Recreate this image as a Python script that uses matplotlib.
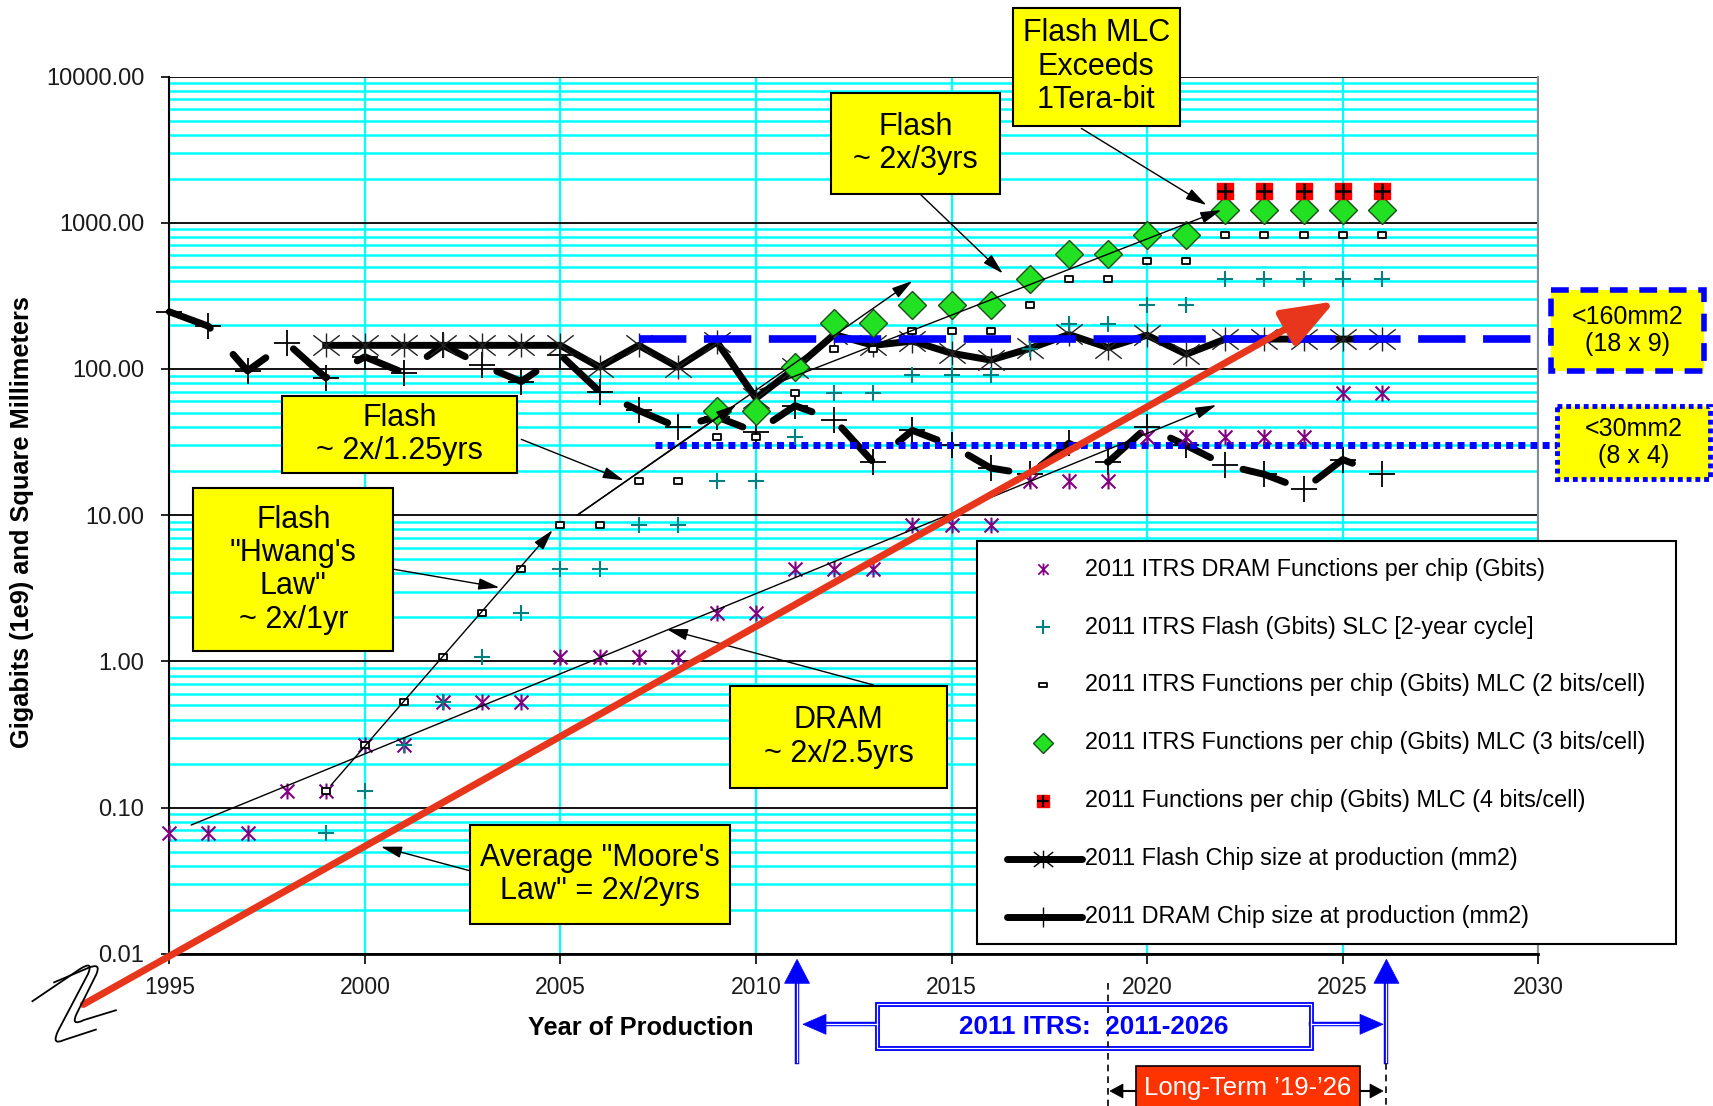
import numpy as np
import matplotlib
matplotlib.use("Agg")
import matplotlib.pyplot as plt
from matplotlib import transforms
from matplotlib.lines import Line2D
from matplotlib.patches import Rectangle, Polygon, PathPatch, FancyArrowPatch
from matplotlib.path import Path
from matplotlib.ticker import LogLocator, FuncFormatter, NullFormatter, FixedLocator

plt.rcParams['font.family'] = ['Liberation Sans', 'DejaVu Sans']

W, H = 1713, 1106

# ---------------------------------------------------------------------------
# 2011 ITRS roadmap series
# ---------------------------------------------------------------------------
dram_years = list(range(1995, 2027))
dram_gbits = [0.067, 0.067, 0.067, 0.13, 0.13, 0.27, 0.27, 0.53, 0.53, 0.53,
              1.07, 1.07, 1.07, 1.07, 2.15, 2.15, 4.29, 4.29, 4.29,
              8.59, 8.59, 8.59, 17.18, 17.18, 17.18,
              34.36, 34.36, 34.36, 34.36, 34.36, 68.72, 68.72]

flash_years = list(range(1999, 2027))
flash_slc_gbits = [0.067, 0.13, 0.27, 0.53, 1.07, 2.15, 4.29, 4.29, 8.59, 8.59,
                   17.18, 17.18, 34.36, 68.72, 68.72, 91, 91, 91, 137, 202, 202,
                   274, 274, 410, 410, 410, 410, 410]
mlc2_gbits = [0.13, 0.27, 0.53, 1.07, 2.15, 4.29, 8.59, 8.59, 17.18, 17.18,
              34.36, 34.36, 68.72, 137, 137, 182, 182, 182, 274, 410, 410,
              548, 548, 820, 820, 820, 820, 820]

mlc3_years = list(range(2009, 2027))
mlc3_gbits = [51.5, 51.5, 103, 206, 206, 273, 273, 273, 410, 615, 615,
              820, 820, 1230, 1230, 1230, 1230, 1230]

mlc4_years = list(range(2022, 2027))
mlc4_gbits = [1640, 1640, 1640, 1640, 1640]

flash_chip_mm2 = [145, 145, 145, 145, 145, 145, 145, 103, 145, 103, 153, 63,
                  101, 172, 145, 155, 128, 115, 138, 172, 140, 170, 126,
                  160, 160, 160, 160, 160]
dram_chip_mm2 = [246, 196, 97, 151, 87, 121, 94, 145, 106, 82, 125, 70, 52,
                 40, 47, 37, 56, 45, 23, 38, 30, 21, 19, 31, 23, 40, 30, 22,
                 19, 15, 24, 19]

flash_area_limit = 160   # mm2 (18 x 9)
dram_area_limit = 30     # mm2 (8 x 4)

# trend lines: (start year, end year), (start value, end value)
trend_dram = ([1995.56, 2021.77], [0.076, 56.6])
trend_hwang = ([1999.13, 2004.8], [0.142, 7.9])
trend_flash125 = ([2005.43, 2014.0], [10.0, 400])
trend_flash125_mid = (2009.5, 57)
trend_flash3 = ([2010.1, 2021.9], [72, 1222])
moore_years = [1992.8, 2024.8]
moore_gbits = [0.0045, 290]

legend_labels = [
    "2011 ITRS DRAM Functions per chip (Gbits)",
    "2011 ITRS Flash (Gbits) SLC [2-year cycle]",
    "2011 ITRS Functions per chip (Gbits) MLC (2 bits/cell)",
    "2011 ITRS Functions per chip (Gbits) MLC (3 bits/cell)",
    "2011 Functions per chip (Gbits) MLC (4 bits/cell)",
    "2011 Flash Chip size at production (mm2)",
    "2011 DRAM Chip size at production (mm2)",
]

# ---------------------------------------------------------------------------
# marker shapes
# ---------------------------------------------------------------------------
M, L = Path.MOVETO, Path.LINETO
star = Path([(-1, -1), (1, 1), (-1, 1), (1, -1), (0, -1.15), (0, 1.15)],
            [M, L, M, L, M, L])
star_wide = Path([(-1.1, -0.85), (1.1, 0.85), (-1.1, 0.85), (1.1, -0.85),
                  (0, -1.0), (0, 1.0)], [M, L, M, L, M, L])
small_rect = Path([(-1, -0.65), (1, -0.65), (1, 0.65), (-1, 0.65), (-1, -0.65)],
                  [M, L, L, L, Path.CLOSEPOLY])

PURPLE = '#800080'
TEAL = '#008080'
GREEN = '#22e022'
RED = '#ff0000'
BLUE = '#0000ff'
CYAN = '#00ffff'
MOORE = '#e8361c'

fig = plt.figure(figsize=(W / 100, H / 100), dpi=100)
# pixel coordinates, origin top-left
pxT = transforms.Affine2D().scale(1 / W, -1 / H).translate(0, 1) + fig.transFigure

ax_l, ax_r, ax_t, ax_b = 169.3, 1538.2, 76.5, 953.8
ax = fig.add_axes([ax_l / W, 1 - ax_b / H, (ax_r - ax_l) / W, (ax_b - ax_t) / H])
ax.set_xlim(1995, 2030)
ax.set_yscale('log')
ax.set_ylim(0.01, 10000)

# grid
ax.set_axisbelow(True)
ax.yaxis.set_major_locator(LogLocator(base=10, numticks=12))
ax.yaxis.set_minor_locator(LogLocator(base=10, subs=np.arange(2, 10), numticks=12))
ax.yaxis.set_major_formatter(FuncFormatter(lambda v, p: f'{v:.2f}'))
ax.yaxis.set_minor_formatter(NullFormatter())
ax.xaxis.set_major_locator(FixedLocator(range(1995, 2031, 5)))
ax.yaxis.grid(True, which='minor', color=CYAN, lw=1.8)
ax.yaxis.grid(True, which='major', color='black', lw=1.3)
ax.xaxis.grid(True, which='major', color=CYAN, lw=1.6)

ax.tick_params(axis='y', which='major', direction='out', length=6, width=1.2,
               pad=12, labelsize=17, labelcolor='#1a1a1a')
ax.tick_params(axis='y', which='minor', length=0)
ax.tick_params(axis='x', direction='out', length=7, width=1.2, pad=9,
               labelsize=16.5, labelcolor='#1a1a1a')
ax.spines['top'].set_visible(False)
ax.spines['right'].set_color('#8c8c8c')
ax.spines['right'].set_linewidth(1.5)
ax.spines['left'].set_linewidth(1.5)
ax.spines['bottom'].set_linewidth(2)

# chip size lines
ax.plot(dram_years, dram_chip_mm2, color='black', lw=5, ls=(0, (6.4, 5)),
        dash_capstyle='round', zorder=3, clip_on=False)
ax.plot(dram_years, dram_chip_mm2, ls='none', marker='+', ms=19, mec='black',
        mew=1.3, zorder=3.2, clip_on=False)
ax.plot(flash_years, flash_chip_mm2, color='black', lw=5,
        solid_joinstyle='round', zorder=3.5)
ax.plot(flash_years, flash_chip_mm2, ls='none', marker=star_wide, ms=19,
        mec='#222222', mfc='none', mew=1, zorder=3.6)

# area limits
ax.plot([2007.0, 2030.33], [flash_area_limit] * 2, color=BLUE, lw=5.5,
        ls=(0, (6.2, 2.3)), zorder=4, clip_on=False)
ax.plot([2007.43, 2030.47], [dram_area_limit] * 2, color=BLUE, lw=5,
        ls=(0, (1, 0.75)), zorder=4, clip_on=False)

# functions per chip
ax.plot(dram_years, dram_gbits, ls='none', marker=star, ms=11.5, mec=PURPLE,
        mfc='none', mew=1.5, zorder=5, clip_on=False)
ax.plot(flash_years, flash_slc_gbits, ls='none', marker='+', ms=11.5, mec=TEAL,
        mew=1.5, zorder=5)
ax.plot(flash_years, mlc2_gbits, ls='none', marker=small_rect, ms=6,
        mfc='white', mec='black', mew=1.3, zorder=5)
ax.plot(mlc3_years, mlc3_gbits, ls='none', marker='D', ms=14.5, mfc=GREEN,
        mec='#1a4d1a', mew=1, zorder=5)
ax.plot(mlc4_years, mlc4_gbits, ls='none', marker='s', ms=11.5, mfc=RED,
        mec=RED, zorder=5)
ax.plot(mlc4_years, mlc4_gbits, ls='none', marker='+', ms=11.5, mec='black',
        mew=1.8, zorder=5.1)


def thin_arrow(tail, head, z=6):
    ax.add_patch(FancyArrowPatch(tail, head,
                                 arrowstyle='-|>,head_length=0.8,head_width=0.22',
                                 mutation_scale=16, color='black', lw=1.0,
                                 shrinkA=0, shrinkB=0, zorder=z, clip_on=False))


# trend lines
for xs, ys in (trend_dram, trend_hwang, trend_flash125, trend_flash3):
    thin_arrow((xs[0], ys[0]), (xs[1], ys[1]))
thin_arrow((trend_flash125[0][0], trend_flash125[1][0]), trend_flash125_mid)

# Moore's law arrow
ax.add_patch(FancyArrowPatch((moore_years[0], moore_gbits[0]),
                             (moore_years[1], moore_gbits[1]),
                             arrowstyle='-|>,head_length=1.6,head_width=0.6',
                             mutation_scale=20, color=MOORE, lw=5,
                             shrinkA=0, shrinkB=0, joinstyle='round',
                             zorder=7, clip_on=False))

# callout arrows from the label boxes
thin_arrow((2018.32, 4416), (2021.52, 1321))
thin_arrow((2014.18, 1585), (2016.31, 450))
thin_arrow((2004.0, 33), (2006.62, 17.3))
thin_arrow((2000.75, 4.26), (2003.44, 3.2))
thin_arrow((2013.0, 0.69), (2007.72, 1.66))
thin_arrow((2002.68, 0.037), (2000.41, 0.054))


# ---------------------------------------------------------------------------
# figure-level annotations (pixel coordinates)
# ---------------------------------------------------------------------------
def label_box(text, x0, y0, x1, y1, fs=22, fc='#ffff00', ec='black', lw=1.5,
              ls='solid', color='black', weight='normal', z=10):
    fig.add_artist(Rectangle((x0, y0), x1 - x0, y1 - y0, transform=pxT, fc=fc,
                             ec=ec, lw=lw, ls=ls, zorder=z))
    fig.text((x0 + x1) / 2, (y0 + y1) / 2, text, transform=pxT, ha='center',
             va='center', fontsize=fs, linespacing=1.15, color=color,
             weight=weight, zorder=z + 1)


label_box('Flash MLC\nExceeds\n1Tera-bit', 1012.7, 7.6, 1179.9, 125.6)
label_box('Flash\n~ 2x/3yrs', 831.4, 92.9, 999.6, 194.5)
label_box('Flash\n~ 2x/1.25yrs', 281.9, 395.5, 516.8, 473)
label_box('Flash\n"Hwang\'s\nLaw"\n~ 2x/1yr', 193.4, 488.3, 393.3, 651.1)
label_box('DRAM\n~ 2x/2.5yrs', 729.8, 686, 947.2, 787.7)
label_box('Average "Moore\'s\nLaw" = 2x/2yrs', 469.8, 824.8, 729.8, 924.3)
label_box('<160mm2\n(18 x 9)', 1551.4, 289.5, 1704.3, 371.4, fs=18, ec=BLUE,
          lw=4, ls=(0, (3.2, 2.1)))
label_box('<30mm2\n(8 x 4)', 1556.8, 406.4, 1709.8, 478.5, fs=18, ec=BLUE,
          lw=3.5, ls=(0, (1, 0.8)))

# legend
fig.add_artist(Rectangle((976.9, 541), 699.1, 403, transform=pxT, fc='white',
                         ec='black', lw=1.5, zorder=12))
leg_styles = [
    dict(ls='none', marker=star, ms=8.5, mec=PURPLE, mfc='none', mew=1.3),
    dict(ls='none', marker='+', ms=10, mec=TEAL, mew=1.5),
    dict(ls='none', marker=small_rect, ms=5.5, mfc='white', mec='black', mew=1.3),
    dict(ls='none', marker='D', ms=10, mfc=GREEN, mec='#1a4d1a', mew=1),
    dict(ls='none', marker='s', ms=9, mfc=RED, mec=RED),
    None,
    None,
]
for i, (lab, st) in enumerate(zip(legend_labels, leg_styles)):
    y = 569.2 + 57.9 * i
    if st is not None:
        fig.add_artist(Line2D([1043.3], [y], transform=pxT, zorder=13, **st))
        if i == 4:
            fig.add_artist(Line2D([1043.3], [y], transform=pxT, ls='none',
                                  marker='+', ms=9, mec='black', mew=1.6, zorder=13.5))
    else:
        fig.add_artist(Line2D([1007, 1081.6], [y, y], transform=pxT, color='black',
                              lw=5, solid_capstyle='round', zorder=13))
        mk = star_wide if i == 5 else '+'
        fig.add_artist(Line2D([1043.3], [y], transform=pxT, ls='none', marker=mk,
                              ms=14, mec='black', mfc='none', mew=1, zorder=13.5))
    fig.text(1084.8, y, lab, transform=pxT, ha='left', va='center',
             fontsize=16.8, zorder=14)


def xpx(year):
    return ax.transData.transform((year, 1.0))[0]


def double_line(xs, ys, color=BLUE):
    fig.add_artist(Line2D(xs, ys, transform=pxT, color=color, lw=3.2, zorder=10))
    fig.add_artist(Line2D(xs, ys, transform=pxT, color='white', lw=0.9, zorder=10.5))


def head(tip, base, half, color=BLUE):
    (tx, ty), (bx, by) = tip, base
    if tx == bx:
        pts = [(tx, ty), (bx - half, by), (bx + half, by)]
    else:
        pts = [(tx, ty), (bx, by - half), (bx, by + half)]
    fig.add_artist(Polygon(pts, closed=True, transform=pxT, fc=color, ec=color,
                           lw=0.5, zorder=11))


# 2011-2026 roadmap span markers
for yr in (2011.05, 2026.12):
    x = xpx(yr)
    double_line([x, x], [1061.7, 982])
    head((x, 959.3), (x, 983.3), 12.5)

fig.add_artist(Rectangle((877, 1004), 433.8, 44.3, transform=pxT, fc='white',
                         ec=BLUE, lw=3.5, zorder=10))
fig.add_artist(Rectangle((877, 1004), 433.8, 44.3, transform=pxT, fc='none',
                         ec='white', lw=0.9, zorder=10.5))
fig.text(1093.9, 1026.5, '2011 ITRS:  2011-2026', transform=pxT, ha='center',
         va='center', fontsize=18.8, weight='bold', color=BLUE, zorder=11)
double_line([877, 825], [1024.3, 1024.3])
head((803, 1024.3), (826, 1024.3), 10)
double_line([1310.8, 1361], [1024.3, 1024.3])
head((1383, 1024.3), (1360, 1024.3), 10)

# long-term span
for yr, y0 in ((2019.0, 983), (2026.12, 1063)):
    x = xpx(yr)
    fig.add_artist(Line2D([x, x], [y0, 1106], transform=pxT, color='black',
                          lw=1.2, ls=(0, (4, 3)), zorder=10))
fig.add_artist(Rectangle((1136, 1066), 224, 45, transform=pxT, fc='#ff3300',
                         ec='black', lw=1.2, zorder=10))
fig.text(1248, 1088, 'Long-Term \u201919-\u201926', transform=pxT, ha='center',
         va='center', fontsize=18.5, color='white', zorder=11)
fig.add_artist(Line2D([1136, 1122], [1091, 1091], transform=pxT, color='black',
                      lw=1.5, zorder=10))
head((1110, 1091), (1123, 1091), 7, color='black')
fig.add_artist(Line2D([1360, 1371], [1091, 1091], transform=pxT, color='black',
                      lw=1.5, zorder=10))
head((1383, 1091), (1370, 1091), 7, color='black')

# axis break symbol
C3 = Path.CURVE3
for verts in (
        [(31.7, 1001.7), (80, 969), (94, 960), (88, 974), (58, 1031), (51, 1046),
         (64, 1040), (96.7, 1029.3)],
        [(53.3, 982.7), (88, 968), (102, 962), (96, 975), (77, 1013), (70, 1027),
         (84, 1020), (116.7, 1010)]):
    codes = [M, L, C3, C3, L, C3, C3, L]
    fig.add_artist(PathPatch(Path(verts, codes), transform=pxT, fc='none',
                             ec='black', lw=1.3, zorder=9))

# axis titles
fig.text(22, 522, 'Gigabits (1e9) and Square Millimeters', transform=pxT,
         rotation=90, ha='center', va='center', fontsize=18.3, weight='bold')
fig.text(641, 1028, 'Year of Production', transform=pxT, ha='center',
         va='center', fontsize=18.3, weight='bold')

fig.savefig('out.png', dpi=100)
